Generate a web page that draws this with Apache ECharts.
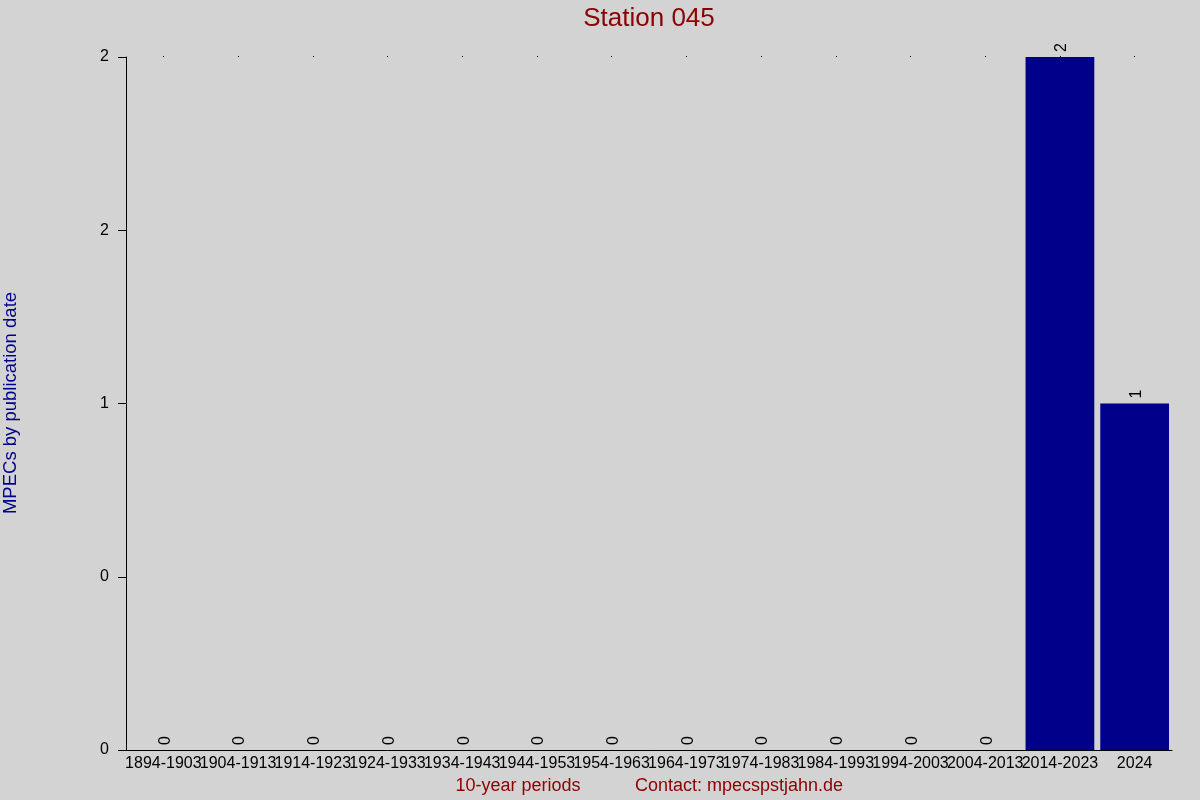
<!DOCTYPE html>
<html>
<head>
<meta charset="utf-8">
<script src="https://cdn.jsdelivr.net/npm/echarts@6/dist/echarts.min.js"></script>
<style>
  html, body { margin: 0; padding: 0; background: #d3d3d3; }
  #chart { width: 1200px; height: 800px; }
</style>
</head>
<body>
<div id="chart"></div>
<script>
var periods = ['1894-1903', '1904-1913', '1914-1923', '1924-1933', '1934-1943', '1944-1953',
    '1954-1963', '1964-1973', '1974-1983', '1984-1993', '1994-2003', '2004-2013',
    '2014-2023', '2024'];
var counts = [0, 0, 0, 0, 0, 0, 0, 0, 0, 0, 0, 0, 2, 1];
var yTicks = [0, 0.5, 1, 1.5, 2];
var yTickLabels = ['0', '0', '1', '2', '2'];

var font = 'Liberation Sans, Arial, sans-serif';

function drawChart() {
    var myChart = echarts.init(document.getElementById('chart'));
    var option = {
        backgroundColor: '#d3d3d3',
        animation: false,
        title: {
            text: 'Station 045',
            left: 644,
            top: 1,
            textAlign: 'center',
            textStyle: { color: '#8b0000', fontSize: 26, fontWeight: 'normal', fontFamily: font }
        },
        grid: { left: 126, right: 28, top: 57, bottom: 50 },
        xAxis: [{
            type: 'category',
            data: periods,
            axisLine: { lineStyle: { color: '#000', width: 1 } },
            axisTick: { show: false },
            axisLabel: { color: '#000', fontSize: 16, fontFamily: font, margin: 6, interval: 0 }
        }, {
            type: 'category',
            data: periods,
            position: 'top',
            axisLine: { show: false },
            axisTick: { show: true, alignWithLabel: true, length: 1, lineStyle: { color: '#000' } },
            axisLabel: { show: false }
        }],
        yAxis: {
            type: 'value',
            min: yTicks[0],
            max: yTicks[yTicks.length - 1],
            interval: yTicks[1] - yTicks[0],
            splitLine: { show: false },
            axisLine: { show: true, lineStyle: { color: '#000', width: 1 } },
            axisTick: { show: true, length: 8, lineStyle: { color: '#000' } },
            axisLabel: {
                color: '#000', fontSize: 16, fontFamily: font, margin: 17,
                formatter: function (v) {
                    var i = yTicks.indexOf(v);
                    return i >= 0 ? yTickLabels[i] : '';
                }
            }
        },
        graphic: [{
            type: 'text',
            rotation: Math.PI / 2,
            x: 11, y: 403,
            style: {
                text: 'MPECs by publication date',
                fill: '#00008b',
                font: '18.5px ' + font,
                textAlign: 'center',
                textVerticalAlign: 'middle'
            }
        }, {
            type: 'text',
            x: 518, y: 786,
            style: {
                text: '10-year periods',
                fill: '#8b0000',
                font: '18px ' + font,
                textAlign: 'center',
                textVerticalAlign: 'middle'
            }
        }, {
            type: 'text',
            x: 739, y: 786,
            style: {
                text: 'Contact: mpecspstjahn.de',
                fill: '#8b0000',
                font: '18px ' + font,
                textAlign: 'center',
                textVerticalAlign: 'middle'
            }
        }],
        series: [{
            type: 'bar',
            data: counts,
            barCategoryGap: '8%',
            itemStyle: { color: '#00008b' },
            label: {
                show: true,
                position: 'top',
                rotate: 90,
                align: 'left',
                verticalAlign: 'middle',
                distance: 5,
                offset: [0, 2],
                color: '#000',
                fontSize: 16,
                fontFamily: font
            }
        }]
    };
    myChart.setOption(option);
}
drawChart();
</script>
</body>
</html>
